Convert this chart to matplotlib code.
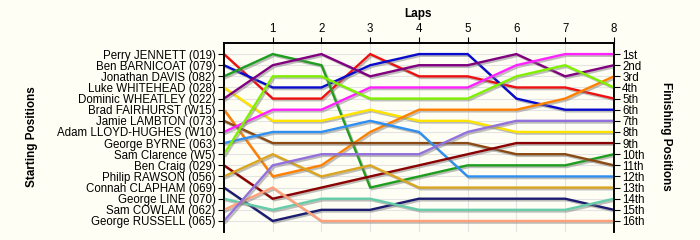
import matplotlib
matplotlib.use("Agg")
import matplotlib.pyplot as plt
import matplotlib.patheffects as pe

drivers = ["Perry JENNETT (019)", "Ben BARNICOAT (079)", "Jonathan DAVIS (082)",
           "Luke WHITEHEAD (028)", "Dominic WHEATLEY (022)", "Brad FAIRHURST (W15)",
           "Jamie LAMBTON (073)", "Adam LLOYD-HUGHES (W10)", "George BYRNE (063)",
           "Sam Clarence (W5)", "Ben Craig (029)", "Philip RAWSON (056)",
           "Connah CLAPHAM (069)", "George LINE (070)", "Sam COWLAM (062)",
           "George RUSSELL (065)"]
finish_labels = ["1st", "2nd", "3rd", "4th", "5th", "6th", "7th", "8th", "9th",
                 "10th", "11th", "12th", "13th", "14th", "15th", "16th"]
laps = [0, 1, 2, 3, 4, 5, 6, 7, 8]

jennett = [1, 5, 5, 1, 3, 3, 4, 4, 5]
barnicoat = [2, 4, 4, 2, 1, 1, 5, 6, 6]
davis = [3, 1, 2, 13, 12, 11, 11, 11, 10]
whitehead = [4, 7, 7, 6, 7, 7, 8, 8, 8]
wheatley = [5, 2, 1, 3, 2, 2, 1, 3, 2]
fairhurst = [6, 12, 11, 8, 6, 6, 6, 5, 3]
lambton = [7, 9, 9, 9, 9, 9, 10, 10, 11]
lloyd_hughes = [8, 6, 6, 4, 4, 4, 2, 1, 1]
byrne = [9, 8, 8, 7, 8, 12, 12, 12, 12]
clarence = [10, 3, 3, 5, 5, 5, 3, 2, 4]
craig = [11, 14, 13, 12, 11, 10, 9, 9, 9]
rawson = [12, 10, 12, 11, 13, 13, 13, 13, 13]
clapham = [13, 16, 15, 15, 14, 14, 14, 14, 15]
line_ = [14, 15, 14, 14, 15, 15, 15, 15, 14]
cowlam = [15, 13, 16, 16, 16, 16, 16, 16, 16]
russell = [16, 11, 10, 10, 10, 8, 7, 7, 7]

series = [jennett, barnicoat, davis, whitehead, wheatley, fairhurst, lambton,
          lloyd_hughes, byrne, clarence, craig, rawson, clapham, line_, cowlam, russell]
colors = ["#EE1111", "#0A0ACC", "#1E9E1E", "#FFE400", "#800080", "#FF8000",
          "#8B4A14", "#FF22FF", "#2F8FF0", "#80F000", "#8B0000", "#DAA520",
          "#1C1C70", "#66CDAA", "#FFA07A", "#9370DB"]

plt.rcParams['font.family'] = ['Liberation Sans', 'DejaVu Sans']
bg = "#FEFEF4"
fig = plt.figure(figsize=(7, 2.4), dpi=100, facecolor=bg)
ax = fig.add_axes([0.32, 0.033, 0.557, 0.788])
ax.set_facecolor(bg)

for s, c in zip(series, colors):
    ax.plot(laps, s, color=c, lw=1.7, solid_joinstyle='miter',
            path_effects=[pe.SimpleLineShadow(offset=(1.2, -1.2), shadow_color='gray', alpha=0.5),
                          pe.Normal()], zorder=3)

fs = 8.3
ax.set_xlim(0, 8)
ax.set_ylim(17, 0)
ax.set_yticks(range(1, 17))
ax.set_yticklabels(drivers, fontsize=fs)
ax.set_xticks(range(1, 9))
ax.set_xticklabels([str(i) for i in range(1, 9)], fontsize=fs)
ax.xaxis.tick_top()
ax.tick_params(axis='x', length=4, pad=2)
ax.tick_params(axis='y', length=4, pad=2)
ax.grid(True, color="#E4E4E4", lw=0.8, zorder=0)
ax.spines['bottom'].set_visible(False)
for sp in ['top', 'left', 'right']:
    ax.spines[sp].set_linewidth(1.2)

ax2 = ax.twinx()
ax2.set_ylim(17, 0)
ax2.set_yticks(range(1, 17))
ax2.set_yticklabels(finish_labels, fontsize=fs)
ax2.tick_params(axis='y', length=4, pad=2)
ax2.spines['bottom'].set_visible(False)
for sp in ['top', 'left', 'right']:
    ax2.spines[sp].set_linewidth(1.2)

fig.text(0.597, 0.94, "Laps", ha='center', va='center', fontsize=8.5, fontweight='bold')
fig.text(0.045, 0.43, "Starting Positions", ha='center', va='center', rotation=90,
         fontsize=8.5, fontweight='bold')
fig.text(0.952, 0.43, "Finishing Positions", ha='center', va='center', rotation=-90,
         fontsize=8.5, fontweight='bold')

fig.savefig("out.png", dpi=100, facecolor=bg)
